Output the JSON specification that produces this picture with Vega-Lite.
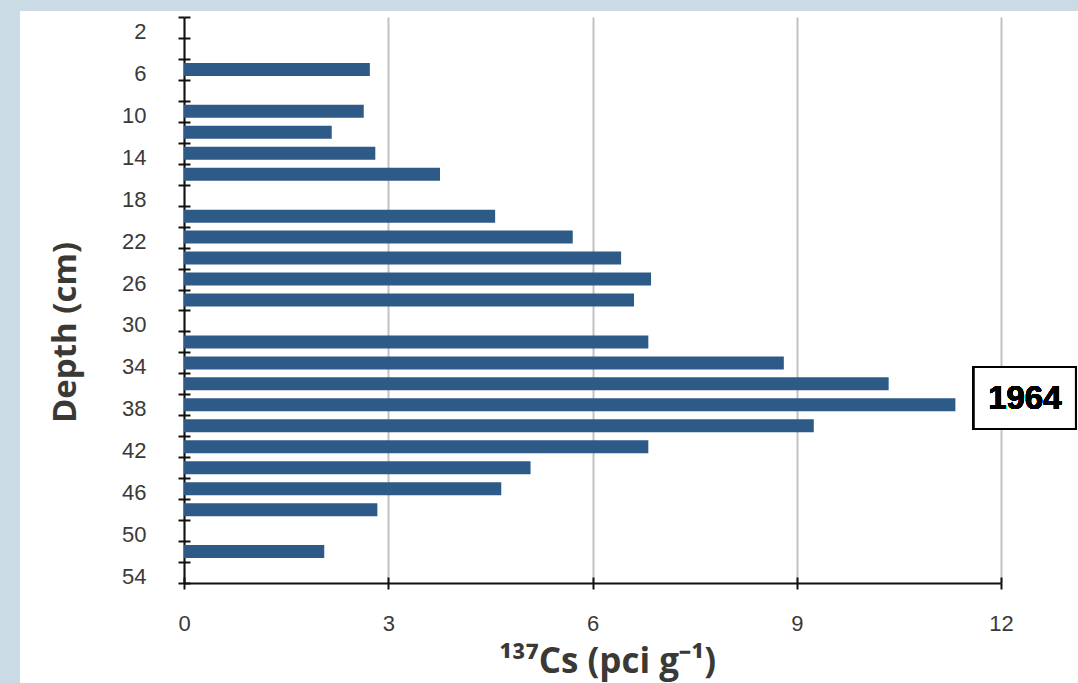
{
  "$schema": "https://vega.github.io/schema/vega-lite/v6.json",
  "width": 817,
  "height": 566,
  "autosize": "none",
  "padding": {"left": 184, "top": 17, "right": 77, "bottom": 100},
  "background": "white",
  "config": {
    "view": {"stroke": null},
    "scale": {"continuousPadding": 0},
    "axis": {
      "domainColor": "#111111",
      "domainWidth": 2,
      "tickColor": "#111111",
      "tickWidth": 2,
      "labelColor": "#3a3a3a",
      "labelFont": "Liberation Sans",
      "labelFontSize": 22,
      "labelFlush": false,
      "titleFont": "Open Sans",
      "titleFontWeight": "bold",
      "titleColor": "#3b3935",
      "titleFontSize": 30
    }
  },
  "data": {
    "values": [
      {"depth": 6, "cs": 2.73},
      {"depth": 10, "cs": 2.64},
      {"depth": 12, "cs": 2.17},
      {"depth": 14, "cs": 2.81},
      {"depth": 16, "cs": 3.76},
      {"depth": 20, "cs": 4.57},
      {"depth": 22, "cs": 5.71},
      {"depth": 24, "cs": 6.42},
      {"depth": 26, "cs": 6.86},
      {"depth": 28, "cs": 6.61},
      {"depth": 32, "cs": 6.82},
      {"depth": 34, "cs": 8.81},
      {"depth": 36, "cs": 10.35},
      {"depth": 38, "cs": 11.33},
      {"depth": 40, "cs": 9.25},
      {"depth": 42, "cs": 6.82},
      {"depth": 44, "cs": 5.09},
      {"depth": 46, "cs": 4.66},
      {"depth": 48, "cs": 2.84},
      {"depth": 52, "cs": 2.06}
    ]
  },
  "layer": [
    {
      "mark": {"type": "rect", "fill": "#cbdbe5", "strokeWidth": 0},
      "encoding": {
        "x": {"datum": -3, "type": "quantitative", "scale": {"domain": [0, 12], "nice": false, "padding": 0}, "axis": null},
        "x2": {"datum": -2.41},
        "y": {"datum": -1, "type": "quantitative", "scale": {"domain": [1, 55], "nice": false, "zero": false, "reverse": true, "padding": 0}, "axis": null},
        "y2": {"datum": 66}
      }
    },
    {
      "mark": {"type": "rect", "fill": "#cbdbe5", "strokeWidth": 0},
      "encoding": {
        "x": {"datum": -3, "type": "quantitative", "axis": null},
        "x2": {"datum": 14},
        "y": {"datum": -1, "type": "quantitative", "axis": null},
        "y2": {"datum": 0.43}
      }
    },
    {
      "mark": {"type": "bar", "orient": "horizontal", "height": 13, "color": "#2e5a88"},
      "encoding": {
        "x": {
          "field": "cs",
          "type": "quantitative",
          "scale": {"domain": [0, 12], "nice": false, "padding": 0},
          "axis": {
            "values": [0, 3, 6, 9, 12],
            "tickSize": 6,
            "labelPadding": 24,
            "labelFontSize": 22,
            "grid": true,
            "gridColor": "#c2c2c2",
            "gridWidth": 2,
            "title": "¹³⁷Cs (pci g⁻¹)",
            "titleX": 423,
            "titleY": 78,
            "titleBaseline": "middle",
            "titleAlign": "center",
            "titleFontSize": 35
          }
        },
        "y": {
          "field": "depth",
          "type": "quantitative",
          "scale": {"domain": [1, 55], "nice": false, "zero": false, "reverse": true, "padding": 0},
          "axis": {
            "values": [1, 3, 5, 7, 9, 11, 13, 15, 17, 19, 21, 23, 25, 27, 29, 31, 33, 35, 37, 39, 41, 43, 45, 47, 49, 51, 53, 55],
            "tickSize": 6,
            "labels": false,
            "grid": false,
            "title": null
          }
        }
      }
    },
    {
      "mark": {"type": "rect", "fill": "white", "stroke": "black", "strokeWidth": 2},
      "encoding": {
        "x": {
          "datum": 11.6,
          "type": "quantitative",
          "axis": {
            "values": [0, 3, 6, 9, 12],
            "tickSize": -6,
            "labels": false,
            "domain": false,
            "grid": false,
            "title": null,
            "orient": "bottom"
          }
        },
        "x2": {"datum": 13.1},
        "y": {
          "datum": 34.4,
          "type": "quantitative",
          "axis": {
            "values": [1, 3, 5, 7, 9, 11, 13, 15, 17, 19, 21, 23, 25, 27, 29, 31, 33, 35, 37, 39, 41, 43, 45, 47, 49, 51, 53, 55],
            "tickSize": -6,
            "labels": false,
            "domain": false,
            "grid": false,
            "title": null,
            "orient": "left"
          }
        },
        "y2": {"datum": 40.3}
      }
    },
    {
      "mark": {"type": "text", "text": "1964", "font": "Liberation Sans", "fontWeight": "bold", "fontSize": 33, "color": "black", "align": "center", "baseline": "middle"},
      "encoding": {
        "x": {"datum": 12.35, "type": "quantitative", "axis": null},
        "y": {
          "datum": 37.45,
          "type": "quantitative",
          "axis": {
            "values": [2, 6, 10, 14, 18, 22, 26, 30, 34, 38, 42, 46, 50, 54],
            "ticks": false,
            "domain": false,
            "grid": false,
            "labelPadding": 38,
            "labelOffset": 4,
            "labelFontSize": 22,
            "orient": "left",
            "title": "Depth (cm)",
            "titleX": -119,
            "titleY": 315,
            "titleAlign": "center",
            "titleBaseline": "middle",
            "titleAngle": -90,
            "titleFontSize": 33
          }
        }
      }
    }
  ],
  "resolve": {
    "scale": {"x": "shared", "y": "shared"},
    "axis": {"x": "independent", "y": "independent"}
  }
}
